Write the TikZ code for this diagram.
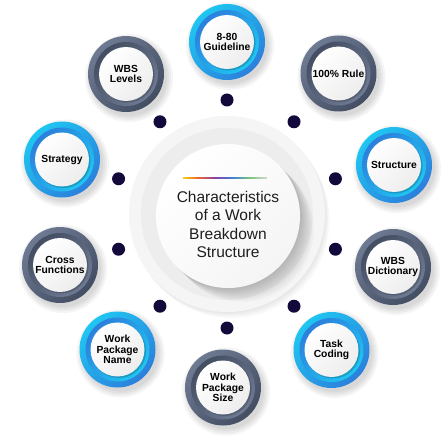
\documentclass[tikz,border=0pt]{standalone}
\usepackage{fontspec}
\setmainfont{Liberation Sans}
\usepackage{tikz}
\usetikzlibrary{calc}
\usepackage{xcolor}
\definecolor{cyanA}{HTML}{1FC6F1}
\definecolor{cyanB}{HTML}{2C7FDC}
\definecolor{grayA}{HTML}{6E7A92}
\definecolor{grayB}{HTML}{434E63}
\definecolor{dotc}{HTML}{130A3B}
\definecolor{diskc}{HTML}{F5F5F5}
\definecolor{bandc}{HTML}{EDEDED}
\definecolor{inkc}{HTML}{1E1E1E}
\definecolor{lineY}{HTML}{F7D117}
\definecolor{lineO}{HTML}{EE6A2C}
\definecolor{lineP}{HTML}{8A3FA6}
\definecolor{lineB}{HTML}{3F7FD8}
\definecolor{lineG}{HTML}{79C779}
\definecolor{lineE}{HTML}{D8D8D8}

\begin{document}
\begin{tikzpicture}[x=1pt,y=1pt,
  ring/.style={top color=#1A,bottom color=#1B,shading angle=45},
  band/.style={top color=#1B,bottom color=#1A,shading angle=45},
  item/.style={circle,minimum size=54pt,inner sep=0pt,align=center,
    top color=white,bottom color=black!7,shading angle=45,text=black,
    font=\bfseries\fontsize{10.3}{10.4}\selectfont},
  core/.style={circle,minimum size=144pt,inner sep=0pt,
    top color=white,bottom color=black!4,shading angle=45},
  title/.style={align=center,inner sep=0pt,text=inkc,
    font=\fontsize{15.5}{18.5}\selectfont}]
  \useasboundingbox (0,0) rectangle (447,440);
  \fill[white] (0,0) rectangle (447,440);
  \coordinate (C) at (227,226);
  % 中心圆盘及其阴影
  \foreach \i in {1,...,8} \fill[black,opacity=.012] ($(C)+(.6*\i,-.8*\i)$) circle (98);
  \fill[diskc] (C) circle (98);
  \fill[bandc] (C) circle (86);
  \begin{scope}
    \clip (C) circle (98);
    \foreach \i in {1,...,14} \fill[black,opacity=.015] ($(228,224)+(\i,-\i)$) circle (72);
  \end{scope}
  \node[core] (core) at (228,224) {};
  \node[title] (title) at (228,215.5) {Characteristics\\of a Work\\Breakdown\\Structure};
  % 彩色短线
  \shade[left color=lineY,right color=lineO] (183,261.3) rectangle (197,262.7);
  \shade[left color=lineO,right color=lineP] (197,261.3) rectangle (215,262.7);
  \shade[left color=lineP,right color=lineB] (215,261.3) rectangle (232,262.7);
  \shade[left color=lineB,right color=lineG] (232,261.3) rectangle (250,262.7);
  \shade[left color=lineG,right color=lineE] (250,261.3) rectangle (267,262.7);
  % 小圆点：半径 114，每隔 36°
  \foreach \a in {18,54,...,342} \fill[dotc] ($(C)+(\a:114)$) circle (6.5);
  % 十个特征：外环 + 内环 + 白色标签
  \foreach \n/\x/\y/\k/\t in {
      guide/227/398/cyan/{8-80\\Guideline},
      rule/338.5/366.5/gray/{100\% Rule},
      struct/394/275/cyan/{Structure},
      dict/393/173/gray/{WBS\\Dictionary},
      coding/331.5/90/cyan/{Task\\Coding},
      wpsize/223/52.5/gray/{Work\\Package\\Size},
      wpname/117.5/90.5/cyan/{Work\\Package\\Name},
      cross/60/175/gray/{Cross\\Functions},
      strat/62/280.5/cyan/{Strategy},
      levels/126/366/gray/{WBS\\Levels}}{
    \foreach \r in {38,40,42,44} \fill[black,opacity=.04] (\x+3,\y-4) circle (\r);
    \shade[ring=\k] (\x,\y) circle (38);
    \shade[band=\k] (\x,\y) circle (32);
    \fill[black,opacity=.18] (\x+1.5,\y-1.5) circle (27);
    \node[item] (\n) at (\x,\y) {\t};
  }
\end{tikzpicture}
\end{document}
